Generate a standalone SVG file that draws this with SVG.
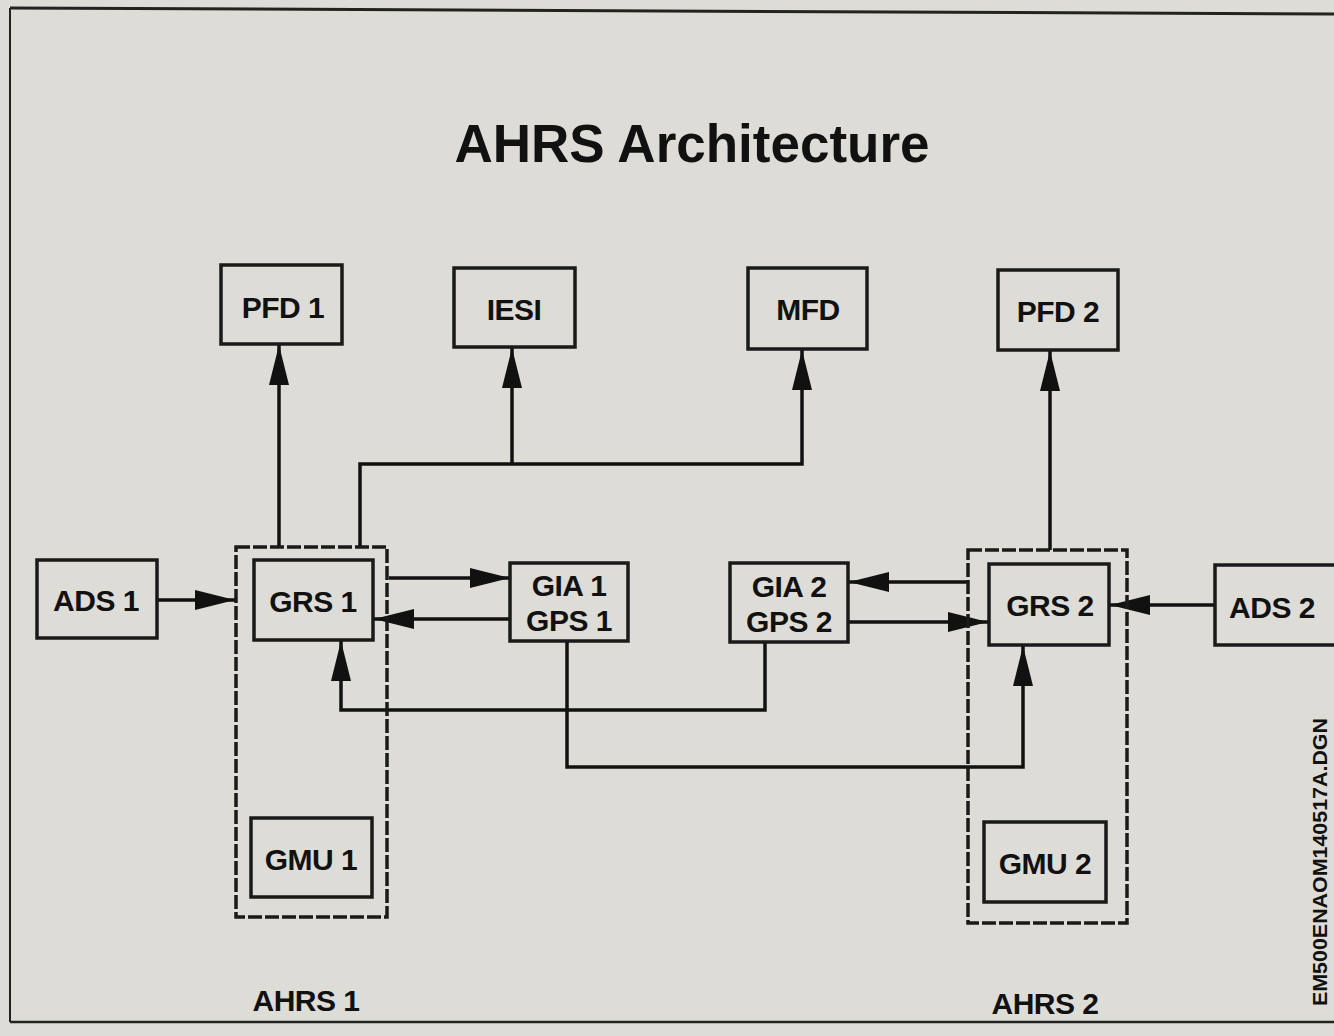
<svg xmlns="http://www.w3.org/2000/svg" width="1334" height="1036" viewBox="0 0 1334 1036">
<style>
.box{fill:none;stroke:#1a1a1a;stroke-width:3.5}
.dash{fill:none;stroke:#1a1a1a;stroke-width:3.5;stroke-dasharray:14 3}
.lbl{font-family:"Liberation Sans",Arial,sans-serif;font-weight:bold;font-size:30px;fill:#111;text-anchor:middle;letter-spacing:-0.5px}
.ln{fill:none;stroke:#111;stroke-width:3.5}
</style>
<defs>
<marker id="ah" markerUnits="userSpaceOnUse" markerWidth="42" markerHeight="22" refX="40" refY="10" orient="auto">
<path d="M0,0 L40,10 L0,20 Z" fill="#111"/>
</marker>
</defs>
<rect x="0" y="0" width="1334" height="1036" fill="#dddcd7"/>
<g id="frame">
<line x1="10" y1="8" x2="1334" y2="14" stroke="#222" stroke-width="3"/>
<line x1="10" y1="8" x2="10" y2="1022" stroke="#222" stroke-width="2"/>
<line x1="10" y1="1022" x2="1334" y2="1022" stroke="#222" stroke-width="2.5"/>
</g>
<text x="692" y="162" font-family="'Liberation Sans',Arial,sans-serif" font-weight="bold" font-size="53" fill="#111" text-anchor="middle">AHRS Architecture</text>
<g id="connectors">
<line class="ln" x1="279" y1="547" x2="279" y2="345" marker-end="url(#ah)"/>
<polyline class="ln" points="360,547 360,464 802,464 802,350" marker-end="url(#ah)"/>
<line class="ln" x1="512" y1="464" x2="512" y2="348" marker-end="url(#ah)"/>
<line class="ln" x1="157" y1="600" x2="235" y2="600" marker-end="url(#ah)"/>
<line class="ln" x1="389" y1="578" x2="510" y2="578" marker-end="url(#ah)"/>
<line class="ln" x1="510" y1="619" x2="374" y2="619" marker-end="url(#ah)"/>
<polyline class="ln" points="765,642 765,710 341,710 341,641" marker-end="url(#ah)"/>
<polyline class="ln" points="567,641 567,767 1023,767 1023,646" marker-end="url(#ah)"/>
<line class="ln" x1="968" y1="582" x2="849" y2="582" marker-end="url(#ah)"/>
<line class="ln" x1="848" y1="622" x2="988" y2="622" marker-end="url(#ah)"/>
<line class="ln" x1="1215" y1="605" x2="1110" y2="605" marker-end="url(#ah)"/>
<line class="ln" x1="1050" y1="550" x2="1050" y2="351" marker-end="url(#ah)"/>
</g>
<g id="pfd1"><rect class="box" x="221" y="265" width="121" height="79"/><text class="lbl" x="283" y="318">PFD 1</text></g>
<g id="iesi"><rect class="box" x="454" y="268" width="121" height="79"/><text class="lbl" x="514" y="320">IESI</text></g>
<g id="mfd"><rect class="box" x="748" y="268" width="119" height="81"/><text class="lbl" x="808" y="320">MFD</text></g>
<g id="pfd2"><rect class="box" x="998" y="270" width="120" height="80"/><text class="lbl" x="1058" y="322">PFD 2</text></g>
<g id="ads1"><rect class="box" x="37" y="560" width="120" height="78"/><text class="lbl" x="96" y="611">ADS 1</text></g>
<g id="ahrs1"><rect class="dash" x="236" y="547" width="151" height="370"/><text class="lbl" x="306" y="1011">AHRS 1</text></g>
<g id="grs1"><rect class="box" x="254" y="560" width="119" height="80"/><text class="lbl" x="313" y="612">GRS 1</text></g>
<g id="gmu1"><rect class="box" x="251" y="818" width="121" height="79"/><text class="lbl" x="311" y="870">GMU 1</text></g>
<g id="gia1"><rect class="box" x="510" y="563" width="118" height="78"/><text class="lbl" x="569" y="596">GIA 1</text><text class="lbl" x="569" y="631">GPS 1</text></g>
<g id="gia2"><rect class="box" x="730" y="563" width="118" height="79"/><text class="lbl" x="789" y="597">GIA 2</text><text class="lbl" x="789" y="632">GPS 2</text></g>
<g id="ahrs2"><rect class="dash" x="968" y="550" width="159" height="373"/><text class="lbl" x="1045" y="1014">AHRS 2</text></g>
<g id="grs2"><rect class="box" x="989" y="564" width="120" height="81"/><text class="lbl" x="1050" y="616">GRS 2</text></g>
<g id="gmu2"><rect class="box" x="984" y="822" width="122" height="80"/><text class="lbl" x="1045" y="874">GMU 2</text></g>
<g id="ads2"><rect class="box" x="1215" y="565" width="125" height="80"/><text class="lbl" x="1272" y="618">ADS 2</text></g>
<text transform="translate(1327,1006) rotate(-90)" font-family="'Liberation Sans',Arial,sans-serif" font-weight="bold" font-size="21" fill="#111" textLength="288" lengthAdjust="spacingAndGlyphs">EM500ENAOM140517A.DGN</text>
</svg>
